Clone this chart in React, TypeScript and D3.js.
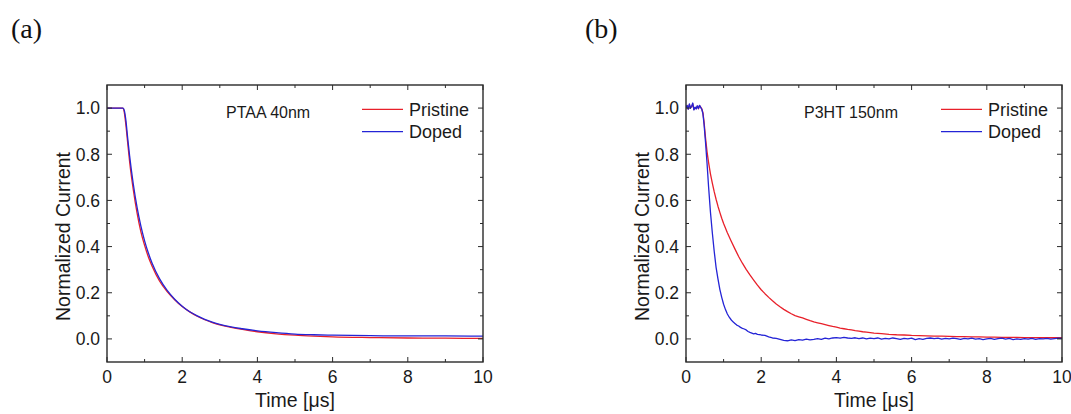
import * as d3 from 'd3'

type Pt = [number, number]

// time [µs], normalized current
const PTAA_PRISTINE: Pt[] = [
  [0, 1], [0.42, 1], [0.45, 0.99], [0.5, 0.93], [0.55, 0.85], [0.6, 0.77],
  [0.7, 0.645], [0.8, 0.545], [0.9, 0.465], [1.0, 0.405], [1.1, 0.355],
  [1.2, 0.315], [1.4, 0.25], [1.6, 0.205], [1.8, 0.17], [2.0, 0.14],
  [2.2, 0.117], [2.4, 0.098], [2.6, 0.083], [2.8, 0.071], [3.0, 0.061],
  [3.3, 0.05], [3.6, 0.041], [4.0, 0.031], [4.5, 0.022], [5.0, 0.016],
  [5.5, 0.012], [6.0, 0.009], [7.0, 0.006], [8.0, 0.004], [9.0, 0.003], [10, 0.002],
]

const PTAA_DOPED: Pt[] = [
  [0, 1], [0.43, 1], [0.46, 0.99], [0.5, 0.95], [0.55, 0.87], [0.6, 0.795],
  [0.7, 0.67], [0.8, 0.57], [0.9, 0.49], [1.0, 0.425], [1.1, 0.372],
  [1.2, 0.328], [1.4, 0.26], [1.6, 0.21], [1.8, 0.172], [2.0, 0.142],
  [2.2, 0.118], [2.4, 0.1], [2.6, 0.085], [2.8, 0.073], [3.0, 0.063],
  [3.3, 0.052], [3.6, 0.044], [4.0, 0.035], [4.5, 0.027], [5.0, 0.021],
  [5.5, 0.018], [6.0, 0.016], [7.0, 0.014], [8.0, 0.013], [9.0, 0.013], [10, 0.012],
]

const P3HT_PRISTINE: Pt[] = [
  [0, 1.0], [0.03, 1.01], [0.06, 0.996], [0.09, 1.015], [0.12, 1.002], [0.15, 1.006],
  [0.18, 1.018], [0.21, 0.994], [0.24, 1.002], [0.27, 0.998], [0.3, 1.008],
  [0.33, 0.997], [0.36, 1.01], [0.39, 1.004], [0.42, 0.997], [0.45, 0.98],
  [0.48, 0.94], [0.52, 0.87], [0.56, 0.81], [0.6, 0.765], [0.65, 0.715],
  [0.7, 0.675], [0.75, 0.638], [0.8, 0.605], [0.85, 0.575], [0.9, 0.548],
  [0.95, 0.523], [1.0, 0.5], [1.1, 0.46], [1.2, 0.424], [1.3, 0.39], [1.4, 0.357],
  [1.5, 0.328], [1.6, 0.301], [1.7, 0.277], [1.8, 0.255], [1.9, 0.233], [2.0, 0.213],
  [2.1, 0.196], [2.2, 0.18], [2.3, 0.165], [2.4, 0.151], [2.5, 0.139], [2.6, 0.128],
  [2.7, 0.118], [2.8, 0.109], [2.9, 0.101], [3.0, 0.096], [3.1, 0.091], [3.2, 0.085],
  [3.3, 0.079], [3.4, 0.074], [3.5, 0.07], [3.6, 0.066], [3.7, 0.062], [3.8, 0.058],
  [3.9, 0.054], [4.0, 0.051], [4.1, 0.047], [4.2, 0.044], [4.3, 0.041], [4.4, 0.039],
  [4.5, 0.036], [4.6, 0.034], [4.7, 0.031], [4.8, 0.029], [4.9, 0.027], [5.0, 0.025],
  [5.2, 0.023], [5.4, 0.02], [5.6, 0.018], [5.8, 0.017], [6.0, 0.015], [6.2, 0.014],
  [6.4, 0.013], [6.6, 0.012], [6.8, 0.012], [7.0, 0.011], [7.2, 0.01], [7.4, 0.01],
  [7.6, 0.009], [7.8, 0.009], [8.0, 0.008], [8.2, 0.008], [8.4, 0.007], [8.6, 0.007],
  [8.8, 0.007], [9.0, 0.006], [9.2, 0.006], [9.4, 0.006], [9.6, 0.005], [9.8, 0.006], [10.0, 0.005],
]

const P3HT_DOPED: Pt[] = [
  [0, 1.0], [0.03, 1.012], [0.06, 0.995], [0.09, 1.018], [0.12, 1.0], [0.15, 1.008],
  [0.18, 1.022], [0.21, 0.992], [0.24, 1.004], [0.27, 0.996], [0.3, 1.01], [0.33, 0.998],
  [0.36, 1.012], [0.39, 1.003], [0.42, 0.995], [0.45, 0.975], [0.48, 0.93], [0.52, 0.85],
  [0.56, 0.76], [0.6, 0.66], [0.65, 0.55], [0.7, 0.46], [0.75, 0.38], [0.8, 0.31],
  [0.85, 0.26], [0.9, 0.215], [0.95, 0.18], [1.0, 0.15], [1.05, 0.127], [1.1, 0.108],
  [1.15, 0.094], [1.2, 0.083], [1.25, 0.074], [1.3, 0.067], [1.35, 0.06], [1.4, 0.056],
  [1.45, 0.05], [1.5, 0.046], [1.55, 0.043], [1.6, 0.039], [1.65, 0.032], [1.7, 0.028],
  [1.75, 0.025], [1.8, 0.022], [1.85, 0.024], [1.9, 0.02], [1.95, 0.019], [2.0, 0.017],
  [2.1, 0.015], [2.2, 0.009], [2.3, 0.004], [2.4, 0.002], [2.5, -0.002], [2.6, -0.006],
  [2.7, -0.008], [2.8, -0.004], [2.9, -0.007], [3.0, -0.003], [3.1, -0.005], [3.2, -0.001],
  [3.3, -0.004], [3.4, -0.002], [3.5, 0.001], [3.6, -0.002], [3.7, 0.003], [3.8, 0.0],
  [3.9, 0.004], [4.0, 0.006], [4.1, 0.003], [4.2, 0.007], [4.3, 0.004], [4.4, 0.002],
  [4.5, 0.005], [4.6, 0.001], [4.7, 0.004], [4.8, 0.0], [4.9, 0.003], [5.0, 0.001],
  [5.1, 0.004], [5.2, -0.001], [5.3, 0.002], [5.4, 0.0], [5.5, 0.004], [5.6, 0.001],
  [5.7, -0.002], [5.8, 0.002], [5.9, 0.0], [6.0, 0.003], [6.1, -0.003], [6.2, 0.001],
  [6.3, -0.002], [6.4, 0.002], [6.5, 0.004], [6.6, 0.001], [6.7, 0.003], [6.8, -0.001],
  [6.9, 0.002], [7.0, 0.0], [7.1, 0.003], [7.2, 0.001], [7.3, -0.002], [7.4, 0.002],
  [7.5, 0.0], [7.6, 0.003], [7.7, -0.001], [7.8, 0.001], [7.9, -0.003], [8.0, 0.0],
  [8.1, 0.002], [8.2, -0.002], [8.3, 0.001], [8.4, 0.003], [8.5, -0.001], [8.6, 0.002],
  [8.7, -0.003], [8.8, 0.0], [8.9, -0.002], [9.0, 0.001], [9.1, -0.001], [9.2, 0.002],
  [9.3, -0.002], [9.4, 0.001], [9.5, 0.0], [9.6, 0.002], [9.7, -0.001], [9.8, 0.001],
  [9.9, 0.003], [10.0, 0.002],
]

const X_MAJOR = [0, 2, 4, 6, 8, 10]
const X_MINOR = [1, 3, 5, 7, 9]
const Y_MAJOR = [0, 0.2, 0.4, 0.6, 0.8, 1.0]
const Y_MINOR = [0.1, 0.3, 0.5, 0.7, 0.9]
const SERIES_NAMES = ['Pristine', 'Doped']
const SERIES_COLORS = ['#e8202a', '#2424d6']

const W = 1071
const H = 414
const FONT = "'Liberation Sans', Arial, Helvetica, sans-serif"
const INK = '#2a2a2a'

type PanelProps = {
  left: number
  right: number
  letter: string
  letterX: number
  sample: string
  pristine: Pt[]
  doped: Pt[]
  smooth: boolean
}

function Panel({ left, right, letter, letterX, sample, pristine, doped, smooth }: PanelProps) {
  const top = 85
  const bottom = 362
  const x = d3.scaleLinear().domain([0, 10]).range([left, right])
  const y = d3.scaleLinear().domain([-0.1, 1.1]).range([bottom, top])
  const line = d3
    .line<Pt>()
    .x((d) => x(d[0]))
    .y((d) => y(d[1]))
    .curve(smooth ? d3.curveMonotoneX : d3.curveLinear)

  const major = 5
  const minor = 3
  const legendX0 = right - 121
  const legendX1 = right - 80

  return (
    <g fontFamily={FONT}>
      <text x={letterX} y={38} fontFamily="'Liberation Serif', 'Times New Roman', serif" fontSize={28} fill="#111">
        ({letter})
      </text>

      <defs>
        <clipPath id={`clip-${letter}`}>
          <rect x={left} y={top} width={right - left} height={bottom - top} />
        </clipPath>
      </defs>

      <g clipPath={`url(#clip-${letter})`} fill="none" strokeWidth={1.3} strokeLinejoin="round">
        <path d={line(pristine) ?? ''} stroke={SERIES_COLORS[0]} />
        <path d={line(doped) ?? ''} stroke={SERIES_COLORS[1]} />
      </g>

      {/* ticks, all pointing inward, mirrored on top and right */}
      <g stroke={INK} strokeWidth={1}>
        {X_MAJOR.map((t) => (
          <g key={`xM${t}`}>
            <line x1={x(t)} x2={x(t)} y1={bottom} y2={bottom - major} />
            <line x1={x(t)} x2={x(t)} y1={top} y2={top + major} />
          </g>
        ))}
        {X_MINOR.map((t) => (
          <g key={`xm${t}`}>
            <line x1={x(t)} x2={x(t)} y1={bottom} y2={bottom - minor} />
            <line x1={x(t)} x2={x(t)} y1={top} y2={top + minor} />
          </g>
        ))}
        {Y_MAJOR.map((t) => (
          <g key={`yM${t}`}>
            <line x1={left} x2={left + major} y1={y(t)} y2={y(t)} />
            <line x1={right} x2={right - major} y1={y(t)} y2={y(t)} />
          </g>
        ))}
        {Y_MINOR.map((t) => (
          <g key={`ym${t}`}>
            <line x1={left} x2={left + minor} y1={y(t)} y2={y(t)} />
            <line x1={right} x2={right - minor} y1={y(t)} y2={y(t)} />
          </g>
        ))}
      </g>

      <rect
        x={left}
        y={top}
        width={right - left}
        height={bottom - top}
        fill="none"
        stroke={INK}
        strokeWidth={1.4}
      />

      <g fontSize={17.5} fill="#1a1a1a">
        {X_MAJOR.map((t) => (
          <text key={`xl${t}`} x={x(t)} y={383} textAnchor="middle">
            {t}
          </text>
        ))}
        {Y_MAJOR.map((t) => (
          <text key={`yl${t}`} x={left - 7} y={y(t)} dy="0.36em" textAnchor="end">
            {d3.format('.1f')(t)}
          </text>
        ))}
      </g>

      <text x={(left + right) / 2} y={407} textAnchor="middle" fontSize={19.5} fill="#1a1a1a">
        Time [μs]
      </text>
      <text
        transform={`translate(${left - 37},236.5) rotate(-90)`}
        textAnchor="middle"
        fontSize={19.5}
        fill="#1a1a1a"
      >
        Normalized Current
      </text>

      <text x={left + (letter === 'a' ? 119 : 118)} y={112.3} dy="0.36em" fontSize={16} fill="#1a1a1a">
        {sample}
      </text>

      {SERIES_NAMES.map((name, i) => {
        const ly = 109.3 + i * 22.4
        return (
          <g key={name}>
            <line x1={legendX0} x2={legendX1} y1={ly} y2={ly} stroke={SERIES_COLORS[i]} strokeWidth={1.3} />
            <text x={legendX1 + 6} y={ly} dy="0.36em" fontSize={18} fill="#1a1a1a">
              {name}
            </text>
          </g>
        )
      })}
    </g>
  )
}

export default function App() {
  return (
    <svg
      width={W}
      height={H}
      viewBox={`0 0 ${W} ${H}`}
      style={{ position: 'absolute', left: 0, top: 0, background: '#fff' }}
    >
      <rect width={W} height={H} fill="#fff" />
      <Panel
        left={107}
        right={483}
        letter="a"
        letterX={11}
        sample="PTAA 40nm"
        pristine={PTAA_PRISTINE}
        doped={PTAA_DOPED}
        smooth
      />
      <Panel
        left={686}
        right={1062}
        letter="b"
        letterX={585}
        sample="P3HT 150nm"
        pristine={P3HT_PRISTINE}
        doped={P3HT_DOPED}
        smooth={false}
      />
    </svg>
  )
}
